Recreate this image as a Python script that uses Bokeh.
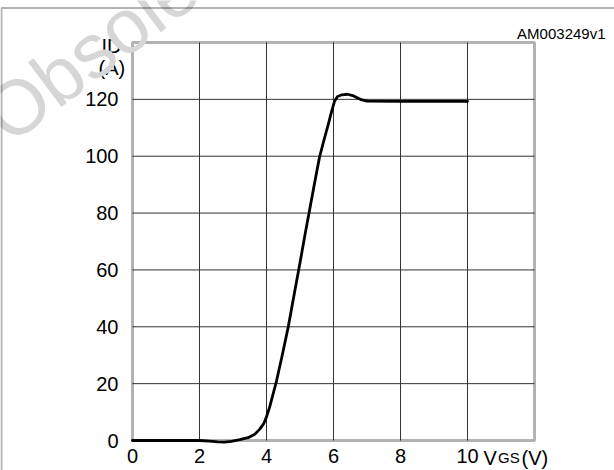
from bokeh.plotting import figure
from bokeh.models import Range1d, FixedTicker, Label, BoxAnnotation, LinearAxis
from bokeh.embed import file_html
from bokeh.resources import INLINE

# Transfer characteristic: drain current vs gate-source voltage
vgs = [0.0, 1.0, 2.0, 2.3, 2.55, 2.75, 2.95, 3.2, 3.45, 3.65, 3.8, 3.92, 4.0,
       4.1, 4.2, 4.3, 4.47, 4.65, 4.82, 5.0, 5.15, 5.3, 5.45, 5.58, 5.7, 5.85,
       5.95, 6.03, 6.12, 6.25, 6.42, 6.6, 6.8, 7.0, 8.0, 9.0, 10.0]
id_a = [0.0, 0.0, 0.0, -0.2, -0.5, -0.6, -0.3, 0.3, 1.0, 2.2, 4.0, 6.0, 8.3,
        12.0, 16.5, 21.0, 30.0, 40.0, 51.0, 62.5, 72.5, 82.0, 91.5, 99.5, 105.0, 111.5,
        116.0, 119.3, 121.0, 121.6, 121.8, 121.2, 120.0, 119.4, 119.3, 119.3, 119.3]

x_ticks = [0, 2, 4, 6, 8, 10]
y_ticks = [0, 20, 40, 60, 80, 100, 120]
x_grid = [2, 4, 6, 8, 10]
y_grid = [20, 40, 60, 80, 100, 120]
x_lim = [0, 12]
y_lim = [0, 140]

FONT = "Liberation Sans"
W, H = 614, 470
# pixel placement of the chart box inside the canvas
LPX, RPX, TPX, BPX = 132, 534, 42, 440
sx = (RPX - LPX) / (x_lim[1] - x_lim[0])
sy = (BPX - TPX) / (y_lim[1] - y_lim[0])

def px_x(px):
    return x_lim[0] + (px - LPX) / sx

def px_y(py):
    return y_lim[0] + (BPX - py) / sy

p = figure(width=W, height=H, output_backend="svg", toolbar_location=None,
           x_range=Range1d(px_x(0), px_x(W)), y_range=Range1d(px_y(H), px_y(0)),
           x_axis_type=None, y_axis_type=None,
           min_border_left=0, min_border_right=0, min_border_top=0, min_border_bottom=0)
p.outline_line_color = None
p.background_fill_color = "white"
p.border_fill_color = "white"
p.xgrid.visible = False
p.ygrid.visible = False

# grid lines
p.segment(x0=x_grid, y0=[y_lim[0]] * len(x_grid), x1=x_grid, y1=[y_lim[1]] * len(x_grid),
          line_color="#333333", line_width=1)
p.segment(x0=[x_lim[0]] * len(y_grid), y0=y_grid, x1=[x_lim[1]] * len(y_grid), y1=y_grid,
          line_color="#333333", line_width=1)

# curve
p.line(vgs, id_a, line_color="black", line_width=2.8, line_join="round", line_cap="round")

# chart box
p.add_layout(BoxAnnotation(left=x_lim[0], right=x_lim[1], bottom=y_lim[0], top=y_lim[1],
                           fill_alpha=0, line_color="black", line_width=3))

# axes at fixed locations
xax = LinearAxis(fixed_location=0, ticker=FixedTicker(ticks=x_ticks))
yax = LinearAxis(fixed_location=0, ticker=FixedTicker(ticks=y_ticks))
for ax in (xax, yax):
    ax.axis_line_color = None
    ax.major_tick_line_color = None
    ax.minor_tick_line_color = None
    ax.major_label_text_font = FONT
    ax.major_label_text_font_size = "20px"
    ax.major_label_text_color = "black"
xax.major_label_standoff = 2
yax.major_label_standoff = 8
p.add_layout(xax, "below")
p.add_layout(yax, "left")

# axis titles and figure code
def lab(px, py, text, size="20px", align="left", color="black", **kw):
    p.add_layout(Label(x=px_x(px), y=px_y(py), text=text, text_font=FONT,
                       text_font_size=size, text_baseline="alphabetic",
                       text_align=align, text_color=color, **kw))

lab(101, 45, "ID")
lab(98, 67, "(A)")
lab(483, 457, "V")
lab(497.5, 457, "GS", size="15px")
lab(521, 457, "(V)")
lab(605, 33, "AM003249v1", size="15px", align="right")

# watermark
lab(-7, 124, "Obsolete Product(s)", size="77px", color="#d6d6d6", angle=37, angle_units="deg")

# outer frame lines
p.add_layout(BoxAnnotation(left=px_x(1), right=px_x(W + 50), top=px_y(7.5), bottom=px_y(H + 50),
                           fill_alpha=0, line_color="black", line_width=2))

open("out.html", "w").write(file_html(p, INLINE))
